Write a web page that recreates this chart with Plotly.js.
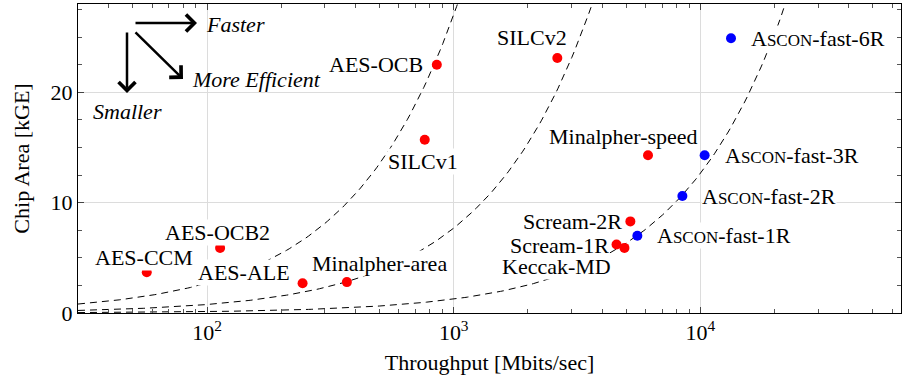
<!DOCTYPE html>
<html>
<head>
<meta charset="utf-8">
<script src="https://cdn.plot.ly/plotly-3.0.1.min.js"></script>
</head>
<body style="margin:0;background:#fff">
<div id="chart" style="width:902px;height:379px"></div>
<script>
// ---- data ----
const redNames = ["AES-CCM","AES-OCB2","AES-ALE","Minalpher-area","AES-OCB","SILCv1","SILCv2","Minalpher-speed","Scream-2R","Scream-1R","Keccak-MD"];
const redThroughput = [57, 113, 244, 369, 854, 763, 2630, 6130, 5200, 4570, 4920];
const redArea = [3.7, 5.9, 2.7, 2.8, 22.5, 15.7, 23.1, 14.3, 8.3, 6.2, 5.9];
const blueNames = ["A<span style=\"font-size:17px\">SCON</span>-fast-1R","A<span style=\"font-size:17px\">SCON</span>-fast-2R","A<span style=\"font-size:17px\">SCON</span>-fast-3R","A<span style=\"font-size:17px\">SCON</span>-fast-6R"];
const blueThroughput = [5550, 8450, 10400, 13300];
const blueArea = [7.0, 10.6, 14.3, 24.9];
// constant-efficiency reference curves: area = throughput / efficiency
const efficiency = [37, 130, 790];
const xTickVals = [100, 1000, 10000];
const xTickText = ["10<sup>2</sup>", "10<sup>3</sup>", "10<sup>4</sup>"];
const yTickVals = [0, 10, 20];

// ---- layout helpers (label offsets in px: dx right, dy up) ----
const redOffsets = [[-3,15],[-3,15],[-59,11],[33,19],[-61,0],[-2,-22],[-25,21],[-25,19],[-58,0],[-57,-1],[-68,-19]];
const blueShift = 19;

const FONT = "Liberation Serif";
const xMin = 30, xMax = 65000;

const traces = [];
efficiency.forEach(function(c){
  const xs = [], ys = [];
  const n = 300;
  for (let i = 0; i <= n; i++) {
    const lx = Math.log10(xMin) + (Math.log10(xMax) - Math.log10(xMin)) * i / n;
    const x = Math.pow(10, lx);
    xs.push(x); ys.push(x / c);
  }
  traces.push({x: xs, y: ys, mode: 'lines', line: {color: '#000', width: 1, dash: '7px,5px'}, hoverinfo: 'skip', showlegend: false});
});
traces.push({x: redThroughput, y: redArea, mode: 'markers', marker: {color: '#ff0000', size: 10}, showlegend: false});
traces.push({x: blueThroughput, y: blueArea, mode: 'markers', marker: {color: '#0000ff', size: 10}, showlegend: false});

const minorX = [];
for (let d = 1; d <= 4; d++) for (let m = 2; m <= 9; m++) {
  const v = m * Math.pow(10, d);
  if (v > xMin && v < xMax) minorX.push(v);
}

const annotations = [];
redNames.forEach(function(n, i) {
  annotations.push({x: Math.log10(redThroughput[i]), y: redArea[i], xref: 'x', yref: 'y', text: n, showarrow: false,
    xanchor: 'center', yanchor: 'middle', xshift: redOffsets[i][0], yshift: redOffsets[i][1],
    bgcolor: '#fff', borderpad: 0, font: {family: FONT, size: 22, color: '#000'}});
});
blueNames.forEach(function(n, i) {
  annotations.push({x: Math.log10(blueThroughput[i]), y: blueArea[i], xref: 'x', yref: 'y', text: n, showarrow: false,
    xanchor: 'left', yanchor: 'middle', xshift: blueShift, yshift: 0,
    bgcolor: '#fff', borderpad: 0, font: {family: FONT, size: 22, color: '#000'}});
});

// direction arrows (paper coords)
const L = 78, T = 4, W = 823, H = 309;
function px(x){ return (x - L) / W; }
function py(y){ return 1 - (y - T) / H; }
function arrow(hx, hy, tx, ty) {
  annotations.push({x: px(hx), y: py(hy), xref: 'paper', yref: 'paper', text: '', showarrow: true,
    ax: tx - hx, ay: ty - hy, axref: 'pixel', ayref: 'pixel', arrowhead: 4, arrowsize: 1.3, arrowwidth: 2.5, arrowcolor: '#000'});
}
arrow(197, 23, 134, 23);
arrow(127, 93, 127, 31);
arrow(183, 79, 134, 31);
function note(txt, cx, cy) {
  annotations.push({x: px(cx), y: py(cy), xref: 'paper', yref: 'paper', text: '<i>' + txt + '</i>', showarrow: false,
    xanchor: 'center', yanchor: 'middle', font: {family: FONT, size: 22, color: '#000'}});
}
note('Faster', 235, 24);
note('More Efficient', 256, 79);
note('Smaller', 127, 111);

const layout = {
  width: 902, height: 379,
  margin: {l: 78, r: 1, t: 4, b: 66},
  paper_bgcolor: '#fff', plot_bgcolor: '#fff',
  font: {family: FONT, size: 22, color: '#000'},
  showlegend: false,
  xaxis: {
    type: 'log', range: [Math.log10(xMin), Math.log10(xMax)],
    tickmode: 'array', tickvals: xTickVals, ticktext: xTickText,
    ticks: 'inside', ticklen: 6, tickcolor: '#444', tickwidth: 1,
    showline: true, linecolor: '#000', linewidth: 1, mirror: 'ticks',
    showgrid: true, gridcolor: '#dcdcdc', gridwidth: 1, zeroline: false,
    minor: {tickmode: 'array', tickvals: minorX, ticks: 'inside', ticklen: 4, tickcolor: '#555', showgrid: false},
    title: {text: 'Throughput [Mbits/sec]', font: {family: FONT, size: 22}, standoff: 10},
    tickfont: {family: FONT, size: 22}
  },
  yaxis: {
    range: [0, 28], tickmode: 'array', tickvals: yTickVals,
    ticks: 'inside', ticklen: 6, tickcolor: '#444', tickwidth: 1,
    showline: true, linecolor: '#000', linewidth: 1, mirror: 'ticks',
    showgrid: true, gridcolor: '#dcdcdc', gridwidth: 1, zeroline: false,
    minor: {dtick: 2.5, ticks: 'inside', ticklen: 4, tickcolor: '#555', showgrid: false},
    title: {text: 'Chip Area [kGE]', font: {family: FONT, size: 22}, standoff: 14},
    tickfont: {family: FONT, size: 22}
  },
  annotations: annotations
};

Plotly.newPlot('chart', traces, layout, {displayModeBar: false});
</script>
</body>
</html>
